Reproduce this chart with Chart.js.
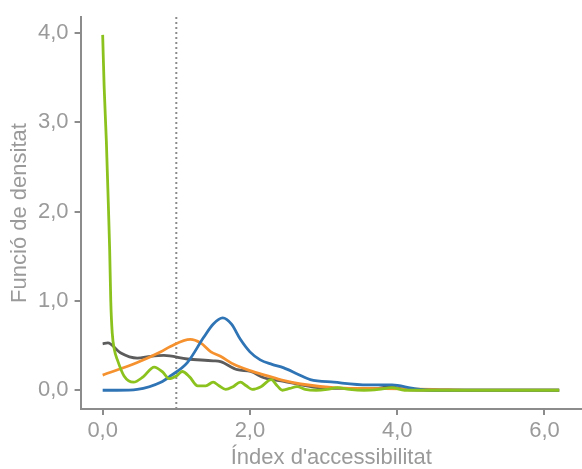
<!DOCTYPE html>
<html>
<head>
<meta charset="utf-8">
<script src="https://cdn.jsdelivr.net/npm/chart.js@4/dist/chart.umd.min.js"></script>
<style>
  html, body { margin: 0; padding: 0; background: #fff; }
  #wrap { width: 582px; height: 469px; }
</style>
</head>
<body>
<div id="wrap"><canvas id="canvas_density"></canvas></div>
<script>
// Density curves (x = index, y = density)
const green_x = [0, 0.02, 0.05, 0.08, 0.095, 0.11, 0.13, 0.16, 0.2, 0.29, 0.42, 0.55, 0.7, 0.82, 0.9, 1.0, 1.08, 1.18, 1.29, 1.4, 1.5, 1.58, 1.67, 1.77, 1.87, 1.95, 2.03, 2.15, 2.29, 2.37, 2.44, 2.54, 2.64, 2.75, 2.9, 3.05, 3.19, 3.35, 3.55, 3.75, 3.93, 4.1, 4.3, 5.0, 6.2];
const green_y = [3.98, 3.4, 2.79, 2.0, 1.57, 1.0, 0.64, 0.45, 0.34, 0.16, 0.09, 0.15, 0.26, 0.2, 0.13, 0.16, 0.21, 0.15, 0.05, 0.05, 0.09, 0.05, 0.01, 0.04, 0.09, 0.05, 0.01, 0.04, 0.12, 0.05, 0.0, 0.02, 0.04, 0.01, 0.0, 0.01, 0.03, 0.01, 0.0, 0.01, 0.03, 0.0, 0.0, 0.0, 0.0];

const blue_x = [0, 0.2, 0.47, 0.79, 0.92, 1.15, 1.37, 1.5, 1.63, 1.75, 1.87, 2.0, 2.14, 2.3, 2.46, 2.65, 2.82, 3.14, 3.6, 3.93, 4.22, 4.5, 5.0, 6.2];
const blue_y = [0.0, 0.0, 0.01, 0.09, 0.16, 0.31, 0.59, 0.74, 0.81, 0.74, 0.57, 0.43, 0.34, 0.29, 0.25, 0.18, 0.12, 0.09, 0.06, 0.06, 0.02, 0.0, 0.0, 0.0];

const orange_x = [0, 0.47, 0.79, 0.92, 1.19, 1.33, 1.47, 1.6, 1.78, 2.0, 2.24, 2.45, 2.69, 3.14, 3.6, 4.5, 5.0, 6.2];
const orange_y = [0.17, 0.31, 0.43, 0.49, 0.57, 0.53, 0.43, 0.38, 0.29, 0.22, 0.16, 0.11, 0.07, 0.03, 0.02, 0.01, 0.0, 0.0];

const grey_x = [0, 0.07, 0.24, 0.47, 0.65, 0.83, 1.15, 1.5, 1.6, 1.83, 2.01, 2.19, 2.46, 2.92, 3.37, 3.7, 3.9, 4.1, 4.5, 5.0, 6.2];
const grey_y = [0.52, 0.53, 0.42, 0.36, 0.38, 0.39, 0.35, 0.33, 0.32, 0.23, 0.21, 0.14, 0.1, 0.03, 0.02, 0.02, 0.04, 0.01, 0.0, 0.0, 0.0];

// reference line at index = 1
const ref_x = [1, 1];
const ref_y = [-0.21, 4.18];

const x_ticks = [0, 2, 4, 6];
const y_ticks = [0, 1, 2, 3, 4];

const axis_grey = '#8c8c8c';
const text_grey = '#9a9a9a';
const font_main = { family: 'Liberation Sans', size: 22, lineHeight: 1.0 };

function pts(xs, ys) {
  return xs.map((x, i) => ({ x: x, y: ys[i] }));
}

function curve(xs, ys, color) {
  return {
    data: pts(xs, ys),
    borderColor: color,
    backgroundColor: color,
    borderWidth: 2.8,
    pointRadius: 0,
    cubicInterpolationMode: 'monotone',
  };
}

function fmt(v) {
  return Number(v).toFixed(1).replace('.', ',');
}

const data_density = {
  datasets: [
    curve(green_x, green_y, '#8cc21e'),
    curve(blue_x, blue_y, '#2f74b5'),
    curve(orange_x, orange_y, '#f5922f'),
    curve(grey_x, grey_y, '#5c5c5c'),
    {
      data: pts(ref_x, ref_y),
      borderColor: '#8c8c8c',
      borderWidth: 2,
      borderDash: [2, 3],
      pointRadius: 0,
    },
  ],
};

const config_density = {
  type: 'line',
  data: data_density,
  options: {
    responsive: false,
    animation: false,
    layout: { padding: { top: 15, right: 0, left: 9, bottom: 0 } },
    plugins: { legend: { display: false }, tooltip: { enabled: false } },
    scales: {
      x: {
        type: 'linear',
        min: -0.3,
        max: 6.51,
        afterBuildTicks: (scale) => { scale.ticks = x_ticks.map(v => ({ value: v })); },
        border: { display: true, color: axis_grey, width: 2 },
        grid: { drawOnChartArea: false, drawTicks: true, tickLength: 6, color: axis_grey, lineWidth: 2 },
        ticks: {
          color: text_grey,
          font: font_main,
          padding: 5,
          maxRotation: 0,
          callback: fmt,
        },
        title: {
          display: true,
          text: "Índex d'accessibilitat",
          color: text_grey,
          font: font_main,
          padding: { top: 0, bottom: 0 },
        },
      },
      y: {
        type: 'linear',
        min: -0.21,
        max: 4.18,
        afterBuildTicks: (scale) => { scale.ticks = y_ticks.map(v => ({ value: v })); },
        border: { display: true, color: axis_grey, width: 2 },
        grid: { drawOnChartArea: false, drawTicks: true, tickLength: 6, color: axis_grey, lineWidth: 2 },
        ticks: {
          color: text_grey,
          font: font_main,
          padding: 6,
          callback: fmt,
        },
        title: {
          display: true,
          text: 'Funció de densitat',
          color: text_grey,
          font: font_main,
          padding: { top: 0, bottom: 1 },
        },
      },
    },
  },
};

const canvas_density = document.getElementById('canvas_density');
canvas_density.width = 582;
canvas_density.height = 469;
const chart_density = new Chart(canvas_density, config_density);
</script>
</body>
</html>
